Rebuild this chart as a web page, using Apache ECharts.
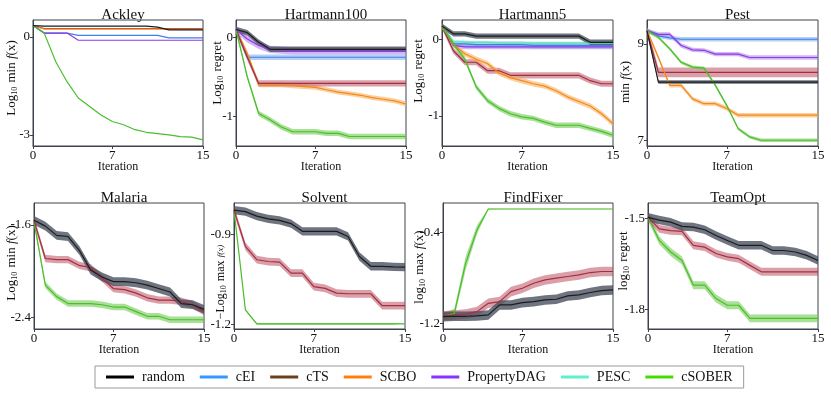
<!DOCTYPE html>
<html>
<head>
<meta charset="utf-8">
<script src="https://cdn.jsdelivr.net/npm/echarts@6/dist/echarts.min.js"></script>
<style>
  html, body { margin: 0; padding: 0; background: #fff; }
  #main { width: 831px; height: 399px; }
</style>
</head>
<body>
<div id="main"></div>
<script>
// iterations on the x axis
const iters = [0, 1, 2, 3, 4, 5, 6, 7, 8, 9, 10, 11, 12, 13, 14, 15];
const xTicks = [0, 7, 15];

const methods = ['random', 'cEI', 'cTS', 'SCBO', 'PropertyDAG', 'PESC', 'cSOBER'];

// Ackley
const ackleyRandom = [0.35, 0.33, 0.33, 0.33, 0.33, 0.33, 0.33, 0.33, 0.33, 0.33, 0.33, 0.3, 0.22, 0.22, 0.22, 0.22];
const ackleyCEI = [0.35, 0.12, 0.12, 0.12, 0.05, 0.05, 0.05, 0.05, 0.05, 0.05, 0.05, 0.05, -0.03, -0.03, -0.03, -0.03];
const ackleyCTS = [0.35, 0.26, 0.26, 0.26, 0.26, 0.26, 0.26, 0.26, 0.26, 0.26, 0.26, 0.26, 0.26, 0.26, 0.26, 0.26];
const ackleySCBO = [0.35, 0.24, 0.24, 0.24, 0.24, 0.24, 0.24, 0.24, 0.24, 0.24, 0.24, 0.24, 0.24, 0.24, 0.24, 0.24];
const ackleyPDAG = [0.35, 0.12, 0.12, 0.12, -0.1, -0.1, -0.1, -0.1, -0.1, -0.1, -0.1, -0.1, -0.1, -0.1, -0.1, -0.1];
const ackleySober = [0.35, 0.11, -0.75, -1.37, -1.87, -2.13, -2.39, -2.59, -2.69, -2.84, -2.92, -2.96, -3.0, -3.05, -3.07, -3.15];

// Hartmann100
const h100Random = [0.1, 0.06, -0.06, -0.15, -0.15, -0.15, -0.15, -0.15, -0.15, -0.15, -0.15, -0.15, -0.15, -0.15, -0.15, -0.15];
const h100CEI = [0.1, -0.25, -0.25, -0.25, -0.25, -0.25, -0.25, -0.25, -0.25, -0.25, -0.25, -0.25, -0.25, -0.25, -0.25, -0.25];
const h100CTS = [0.1, -0.25, -0.58, -0.58, -0.58, -0.58, -0.58, -0.58, -0.58, -0.58, -0.58, -0.58, -0.58, -0.58, -0.58, -0.58];
const h100SCBO = [0.1, -0.2, -0.6, -0.6, -0.6, -0.61, -0.62, -0.63, -0.66, -0.69, -0.71, -0.73, -0.76, -0.78, -0.8, -0.84];
const h100PDAG = [0.1, -0.02, -0.1, -0.15, -0.16, -0.17, -0.17, -0.17, -0.17, -0.17, -0.17, -0.17, -0.17, -0.17, -0.17, -0.17];
const h100Sober = [0.1, -0.5, -0.96, -1.04, -1.13, -1.19, -1.19, -1.19, -1.21, -1.21, -1.25, -1.25, -1.25, -1.25, -1.25, -1.25];

// Hartmann5
const h5Random = [0.17, 0.07, 0.07, 0.04, 0.04, 0.04, 0.04, 0.04, 0.04, 0.04, 0.04, 0.04, 0.04, -0.04, -0.04, -0.04];
const h5CEI = [0.17, -0.06, -0.06, -0.07, -0.07, -0.07, -0.07, -0.07, -0.08, -0.08, -0.08, -0.08, -0.08, -0.08, -0.08, -0.08];
const h5CTS = [0.17, -0.15, -0.3, -0.3, -0.41, -0.41, -0.47, -0.47, -0.47, -0.47, -0.47, -0.47, -0.47, -0.54, -0.58, -0.58];
const h5SCBO = [0.17, -0.07, -0.19, -0.26, -0.32, -0.44, -0.5, -0.54, -0.58, -0.61, -0.67, -0.75, -0.81, -0.87, -0.97, -1.1];
const h5PDAG = [0.17, -0.08, -0.1, -0.1, -0.1, -0.1, -0.1, -0.1, -0.1, -0.1, -0.1, -0.1, -0.1, -0.1, -0.1, -0.1];
const h5PESC = [0.17, -0.03, -0.04, -0.04, -0.04, -0.05, -0.05, -0.05, -0.05, -0.05, -0.05, -0.05, -0.05, -0.05, -0.05, -0.05];
const h5Sober = [0.17, -0.06, -0.26, -0.62, -0.8, -0.9, -0.97, -1.01, -1.03, -1.08, -1.12, -1.12, -1.12, -1.16, -1.2, -1.25];

// Pest
const pestRandom = [9.28, 8.21, 8.21, 8.21, 8.21, 8.21, 8.21, 8.21, 8.21, 8.21, 8.21, 8.21, 8.21, 8.21, 8.21, 8.21];
const pestCEI = [9.28, 9.17, 9.13, 9.1, 9.1, 9.1, 9.1, 9.1, 9.1, 9.1, 9.1, 9.1, 9.1, 9.1, 9.1, 9.1];
const pestCTS = [9.28, 8.41, 8.41, 8.41, 8.41, 8.41, 8.41, 8.41, 8.41, 8.41, 8.41, 8.41, 8.41, 8.41, 8.41, 8.41];
const pestSCBO = [9.28, 8.72, 8.14, 8.14, 7.86, 7.76, 7.76, 7.66, 7.52, 7.52, 7.52, 7.52, 7.52, 7.52, 7.52, 7.52];
const pestPDAG = [9.28, 9.2, 9.2, 8.97, 8.88, 8.87, 8.79, 8.79, 8.79, 8.72, 8.72, 8.72, 8.72, 8.72, 8.72, 8.72];
const pestSober = [9.28, 9.14, 8.9, 8.62, 8.52, 8.5, 8.14, 7.72, 7.24, 7.07, 7.0, 7.0, 7.0, 7.0, 7.0, 7.0];

// Malaria
const malariaRandom = [-1.56, -1.61, -1.69, -1.7, -1.82, -1.99, -2.05, -2.09, -2.09, -2.1, -2.12, -2.15, -2.18, -2.28, -2.29, -2.33];
const malariaCTS = [-1.56, -1.89, -1.9, -1.9, -1.95, -1.97, -2.06, -2.15, -2.16, -2.19, -2.23, -2.25, -2.25, -2.26, -2.29, -2.35];
const malariaSober = [-1.57, -2.12, -2.22, -2.28, -2.28, -2.28, -2.29, -2.31, -2.31, -2.35, -2.39, -2.39, -2.42, -2.42, -2.42, -2.42];

// Solvent
const solventRandom = [-0.818, -0.823, -0.838, -0.847, -0.852, -0.863, -0.889, -0.889, -0.889, -0.889, -0.906, -0.973, -1.006, -1.006, -1.008, -1.009];
const solventCTS = [-0.818, -0.939, -0.984, -0.99, -0.992, -1.029, -1.029, -1.074, -1.08, -1.096, -1.098, -1.098, -1.098, -1.138, -1.138, -1.138];
const solventSober = [-0.818, -1.152, -1.199, -1.199, -1.199, -1.199, -1.199, -1.199, -1.199, -1.199, -1.199, -1.199, -1.199, -1.199, -1.199, -1.199];

// FindFixer
const fixerRandom = [-1.141, -1.138, -1.138, -1.135, -1.126, -1.038, -1.038, -1.018, -1.009, -0.994, -0.988, -0.959, -0.95, -0.929, -0.912, -0.906];
const fixerCTS = [-1.135, -1.126, -1.118, -1.097, -1.024, -1.009, -0.921, -0.891, -0.847, -0.818, -0.803, -0.788, -0.774, -0.753, -0.744, -0.744];
const fixerSober = [-1.141, -1.112, -0.671, -0.376, -0.194, -0.194, -0.194, -0.194, -0.194, -0.194, -0.194, -0.194, -0.194, -0.194, -0.194, -0.194];
const fixerSoberSd = [0.03, 0.04, 0.06, 0.04, 0.004, 0.003, 0.003, 0.003, 0.003, 0.003, 0.003, 0.003, 0.003, 0.003, 0.003, 0.003];

// TeamOpt
const teamRandom = [-1.497, -1.506, -1.513, -1.527, -1.529, -1.538, -1.557, -1.573, -1.589, -1.589, -1.589, -1.606, -1.606, -1.611, -1.622, -1.639];
const teamCTS = [-1.497, -1.535, -1.541, -1.543, -1.589, -1.595, -1.616, -1.627, -1.633, -1.655, -1.676, -1.676, -1.676, -1.676, -1.676, -1.676];
const teamSober = [-1.497, -1.573, -1.611, -1.639, -1.72, -1.72, -1.764, -1.786, -1.786, -1.829, -1.829, -1.829, -1.829, -1.829, -1.829, -1.829];

// colours: plot line, band fill, legend swatch
const lineColor = { random: '#1c1c1c', cEI: '#3f7fe6', cTS: '#a33041', SCBO: '#f0891f', PropertyDAG: '#8a3de6', PESC: '#5fe3bd', cSOBER: '#4cbd2c' };
const bandColor = { random: 'rgba(70,78,92,0.78)', cEI: 'rgba(110,160,235,0.5)', cTS: 'rgba(190,80,100,0.55)', SCBO: 'rgba(252,175,90,0.6)', PropertyDAG: 'rgba(175,120,235,0.55)', PESC: 'rgba(120,235,200,0.5)', cSOBER: 'rgba(110,205,80,0.6)' };
const legendColor = { random: '#000000', cEI: '#3399ff', cTS: '#6b3f1f', SCBO: '#ff7f0e', PropertyDAG: '#8833ff', PESC: '#5ff2c8', cSOBER: '#44dd00' };

// nameAt: centre of the rotated y-axis name, in px
const panels = [
    { title: 'Ackley', yName: 'Log{s|10} min {i|f}(x)', nameAt: [12, 78], min: -3.34, max: 0.52, ticks: [0, -3],
      lines: [['cTS', ackleyCTS, 0], ['SCBO', ackleySCBO, 0], ['cEI', ackleyCEI, 0], ['PropertyDAG', ackleyPDAG, 0], ['cSOBER', ackleySober, 0], ['random', ackleyRandom, 0]] },
    { title: 'Hartmann100', yName: 'Log{s|10} regret', nameAt: [218, 73], min: -1.37, max: 0.22, ticks: [0, -1],
      lines: [['cEI', h100CEI, 0.035], ['SCBO', h100SCBO, 0.03], ['cTS', h100CTS, 0.04], ['cSOBER', h100Sober, 0.035], ['PropertyDAG', h100PDAG, 0.045], ['random', h100Random, 0.035]] },
    { title: 'Hartmann5', yName: 'Log{s|10} regret', nameAt: [419, 71], min: -1.39, max: 0.25, ticks: [0, -1],
      lines: [['PropertyDAG', h5PDAG, 0.03], ['cEI', h5CEI, 0.04], ['PESC', h5PESC, 0.02], ['cTS', h5CTS, 0.04], ['SCBO', h5SCBO, 0.035], ['cSOBER', h5Sober, 0.035], ['random', h5Random, 0.035]] },
    { title: 'Pest', yName: 'min {i|f}(x)', nameAt: [626, 82], min: 6.88, max: 9.5, ticks: [9, 7],
      lines: [['cEI', pestCEI, 0.045], ['PropertyDAG', pestPDAG, 0.045], ['cTS', pestCTS, 0.1], ['SCBO', pestSCBO, 0.045], ['cSOBER', pestSober, 0.035], ['random', pestRandom, 0.035]] },
    { title: 'Malaria', yName: 'Log{s|10} min {i|f}(x)', nameAt: [12, 263], min: -2.5, max: -1.41, ticks: [-1.6, -2.4],
      lines: [['cSOBER', malariaSober, 0.028], ['cTS', malariaCTS, 0.032], ['random', malariaRandom, 0.038]] },
    { title: 'Solvent', yName: '{m|\u2212Log}{s|10}{m| max} {f|f(x)}', nameAt: [221, 282], min: -1.216, max: -0.794, ticks: [-0.9, -1.2],
      lines: [['cSOBER', solventSober, 0.003], ['cTS', solventCTS, 0.013], ['random', solventRandom, 0.014]] },
    { title: 'FindFixer', yName: 'log{s|10} max {i|f}(x)', nameAt: [420, 267], min: -1.25, max: -0.141, ticks: [-0.4, -1.2],
      lines: [['cSOBER', fixerSober, fixerSoberSd], ['cTS', fixerCTS, 0.042], ['random', fixerRandom, 0.042]] },
    { title: 'TeamOpt', yName: 'log{s|10} regret', nameAt: [624, 261], min: -1.864, max: -1.45, ticks: [-1.5, -1.8],
      lines: [['cSOBER', teamSober, 0.013], ['cTS', teamCTS, 0.013], ['random', teamRandom, 0.014]] }
];

// plot boxes [left, top, width, height]
const boxes = [
    [33, 20, 170, 126], [236, 20, 170, 126], [442, 20, 171, 126], [647, 20, 171, 126],
    [34, 203, 170, 126], [234, 203, 171, 126], [443, 203, 170, 126], [648, 203, 170, 126]
];

const font = "'Liberation Serif', 'DejaVu Serif', serif";
const frame = '#3d424d';

var chart = echarts.init(document.getElementById('main'));

const grid = [], xAxis = [], yAxis = [], title = [], series = [], graphic = [];

panels.forEach((p, gi) => {
    const b = boxes[gi];
    grid.push({ left: b[0], top: b[1], width: b[2], height: b[3], show: true, borderColor: frame, borderWidth: 1, backgroundColor: 'transparent' });
    title.push({
        text: p.title, left: b[0] + b[2] / 2, top: gi < 4 ? 3 : 186, textAlign: 'center',
        textStyle: { fontFamily: font, fontSize: 15, fontWeight: 'normal', color: '#111' }
    });
    const tickShow = (i) => xTicks.indexOf(i) >= 0;
    xAxis.push({
        gridIndex: gi, type: 'category', data: iters, boundaryGap: false,
        name: 'Iteration', nameLocation: 'middle', nameGap: 15, nameMoveOverlap: false,
        nameTextStyle: { fontFamily: font, fontSize: 12, color: '#111' },
        axisLine: { onZero: false, lineStyle: { color: frame } },
        axisTick: { interval: tickShow, length: 3, lineStyle: { color: frame } },
        axisLabel: { interval: tickShow, margin: 3, fontFamily: font, fontSize: 13, color: '#111' },
        splitLine: { show: false }
    });
    yAxis.push({
        gridIndex: gi, type: 'value', min: p.min, max: p.max,
        axisLine: { show: true, onZero: false, lineStyle: { color: frame } },
        axisTick: { show: true, length: 3, customValues: p.ticks, lineStyle: { color: frame } },
        axisLabel: { margin: 3, customValues: p.ticks, fontFamily: font, fontSize: 13, color: '#111' },
        splitLine: { show: false }
    });
    // y-axis name, rotated to read bottom to top
    graphic.push({
        type: 'text', x: p.nameAt[0], y: p.nameAt[1], rotation: Math.PI / 2, silent: true,
        style: {
            text: p.yName, fill: '#111', fontFamily: font, fontSize: 13, align: 'center', verticalAlign: 'middle',
            rich: {
                s: { fontFamily: font, fontSize: 8, fill: '#111', padding: [6, 1, 0, 0] },
                i: { fontFamily: font, fontSize: 13, fontStyle: 'italic', fill: '#111' },
                m: { fontFamily: font, fontSize: 12, fill: '#111' },
                f: { fontFamily: font, fontSize: 9, fontStyle: 'italic', fill: '#111' }
            }
        }
    });

    p.lines.forEach(([m, vals, sd]) => {
        const sdAt = (i) => Array.isArray(sd) ? sd[i] : sd;
        if (Array.isArray(sd) || sd > 0) {
            const stack = 'band' + gi + m;
            series.push({
                type: 'line', xAxisIndex: gi, yAxisIndex: gi, stack: stack, stackStrategy: 'all',
                data: vals.map((v, i) => v - sdAt(i)), symbol: 'none', silent: true,
                lineStyle: { opacity: 0 }, z: 1
            });
            series.push({
                type: 'line', xAxisIndex: gi, yAxisIndex: gi, stack: stack, stackStrategy: 'all',
                data: vals.map((v, i) => 2 * sdAt(i)), symbol: 'none', silent: true,
                lineStyle: { opacity: 0 }, areaStyle: { color: bandColor[m], opacity: 1 }, z: 1
            });
        }
        series.push({
            type: 'line', xAxisIndex: gi, yAxisIndex: gi, data: vals, symbol: 'none', silent: true,
            lineStyle: { color: lineColor[m], width: 1.2 }, z: 3
        });
    });
});

// legend-only series
methods.forEach((m) => {
    series.push({ name: m, type: 'line', xAxisIndex: 0, yAxisIndex: 0, data: [], color: legendColor[m], lineStyle: { color: legendColor[m] } });
});

var option = {
    animation: false,
    grid: grid,
    xAxis: xAxis,
    yAxis: yAxis,
    title: title,
    graphic: graphic,
    legend: {
        data: methods, left: 95, top: 366, width: 660,
        padding: [4, 11, 4, 11], itemGap: 15, itemWidth: 28, itemHeight: 3, icon: 'rect',
        borderColor: '#9a9a9a', borderWidth: 1,
        textStyle: { fontFamily: font, fontSize: 14, color: '#111', padding: [0, 0, 0, 3] }
    },
    series: series
};

option && chart.setOption(option);
</script>
</body>
</html>
